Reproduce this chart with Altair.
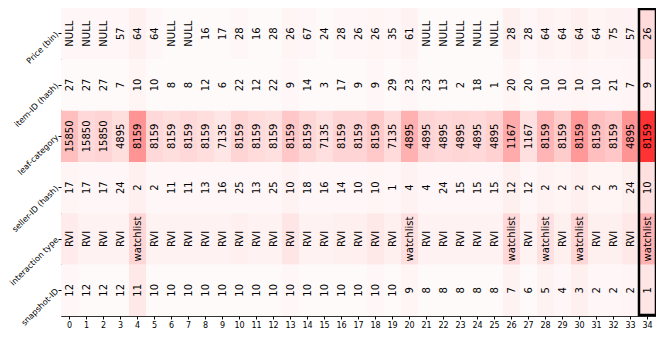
import altair as alt
import pandas as pd

cols = list(range(35))
rows = ["Price (bin)", "item-ID (hash)", "leaf-category", "seller-ID (hash)", "interaction type", "snapshot-ID"]

price = ["NULL", "NULL", "NULL", "57", "64", "64", "NULL", "NULL", "16", "17", "28", "16", "28", "26", "67", "24", "28", "26", "26", "35", "61", "NULL", "NULL", "NULL", "NULL", "NULL", "28", "28", "64", "64", "64", "64", "75", "57", "26"]
item = [27, 27, 27, 7, 10, 10, 8, 8, 12, 6, 22, 12, 22, 9, 14, 3, 17, 9, 9, 29, 23, 23, 13, 2, 18, 1, 20, 20, 10, 10, 10, 10, 21, 7, 9]
leaf = [15850, 15850, 15850, 4895, 8159, 8159, 8159, 8159, 8159, 7135, 8159, 8159, 8159, 8159, 8159, 7135, 8159, 8159, 8159, 7135, 4895, 4895, 4895, 4895, 4895, 4895, 1167, 1167, 8159, 8159, 8159, 8159, 8159, 4895, 8159]
seller = [17, 17, 17, 24, 2, 2, 11, 11, 13, 16, 25, 13, 25, 10, 18, 16, 14, 10, 10, 1, 4, 4, 24, 15, 15, 15, 12, 12, 2, 2, 2, 2, 3, 24, 10]
interaction = ["RVI", "RVI", "RVI", "RVI", "watchlist", "RVI", "RVI", "RVI", "RVI", "RVI", "RVI", "RVI", "RVI", "RVI", "RVI", "RVI", "RVI", "RVI", "RVI", "RVI", "watchlist", "RVI", "RVI", "RVI", "RVI", "RVI", "watchlist", "RVI", "watchlist", "RVI", "watchlist", "RVI", "RVI", "RVI", "watchlist"]
snapshot = [12, 12, 12, 12, 11, 10, 10, 10, 10, 10, 10, 10, 10, 10, 10, 10, 10, 10, 10, 10, 9, 8, 8, 8, 8, 8, 7, 6, 5, 4, 3, 2, 2, 2, 1]

w_price = [0.03, 0.03, 0.03, 0.03, 0.06, 0.03, 0.02, 0.02, 0.02, 0.02, 0.03, 0.02, 0.02, 0.04, 0.03, 0.02, 0.03, 0.03, 0.04, 0.03, 0.05, 0.02, 0.02, 0.02, 0.02, 0.02, 0.06, 0.03, 0.05, 0.04, 0.06, 0.04, 0.05, 0.05, 0.14]
w_item = [0.02, 0.02, 0.02, 0.02, 0.04, 0.02, 0.02, 0.02, 0.02, 0.02, 0.02, 0.02, 0.02, 0.03, 0.02, 0.02, 0.02, 0.02, 0.03, 0.02, 0.03, 0.02, 0.02, 0.02, 0.02, 0.02, 0.04, 0.02, 0.03, 0.03, 0.04, 0.03, 0.03, 0.04, 0.08]
w_leaf = [0.25, 0.15, 0.17, 0.13, 0.42, 0.15, 0.13, 0.15, 0.13, 0.10, 0.17, 0.14, 0.12, 0.22, 0.16, 0.12, 0.17, 0.17, 0.21, 0.14, 0.31, 0.17, 0.15, 0.16, 0.15, 0.18, 0.33, 0.12, 0.29, 0.20, 0.40, 0.25, 0.22, 0.42, 0.80]
w_seller = [0.04, 0.03, 0.03, 0.03, 0.06, 0.03, 0.03, 0.03, 0.03, 0.03, 0.03, 0.03, 0.03, 0.05, 0.03, 0.03, 0.03, 0.03, 0.04, 0.03, 0.05, 0.03, 0.03, 0.03, 0.03, 0.03, 0.06, 0.03, 0.05, 0.04, 0.06, 0.04, 0.04, 0.06, 0.12]
w_inter = [0.08, 0.05, 0.05, 0.05, 0.16, 0.05, 0.05, 0.05, 0.05, 0.05, 0.06, 0.05, 0.05, 0.10, 0.05, 0.05, 0.06, 0.06, 0.09, 0.06, 0.12, 0.05, 0.05, 0.05, 0.05, 0.05, 0.15, 0.05, 0.12, 0.06, 0.16, 0.06, 0.06, 0.09, 0.30]
w_snap = [0.03, 0.02, 0.02, 0.02, 0.09, 0.02, 0.02, 0.02, 0.02, 0.02, 0.02, 0.02, 0.02, 0.03, 0.02, 0.02, 0.02, 0.02, 0.03, 0.02, 0.04, 0.02, 0.02, 0.02, 0.02, 0.02, 0.05, 0.02, 0.05, 0.03, 0.06, 0.03, 0.03, 0.04, 0.10]

highlight = [34]

labels = [price, item, leaf, seller, interaction, snapshot]
weights = [w_price, w_item, w_leaf, w_seller, w_inter, w_snap]
records = []
for r, lab, wt in zip(rows, labels, weights):
    for c in cols:
        records.append({"col": c, "row": r, "label": str(lab[c]), "w": wt[c]})
df = pd.DataFrame(records)

H = 308
W = 595

xenc = alt.X("col:O", sort=cols, scale=alt.Scale(paddingInner=0, paddingOuter=0),
             axis=alt.Axis(title=None, labelAngle=0, labelFontSize=8, labelFont="DejaVu Sans",
                           labelColor="black", tickColor="black", tickSize=3, domain=False, labelPadding=2))
yenc = alt.Y("row:N", sort=rows, scale=alt.Scale(paddingInner=0, paddingOuter=0),
             axis=alt.Axis(title=None, labelAngle=-45, labelFontSize=8.1, labelFont="DejaVu Sans",
                           labelAlign="right", labelBaseline="middle",
                           labelColor="black", tickColor="black", tickSize=3, domain=False, labelPadding=1))

heat = alt.Chart(df).mark_rect().encode(
    x=xenc, y=yenc,
    color=alt.Color("w:Q", scale=alt.Scale(domain=[0, 1], range=["#ffffff", "#ff0000"], interpolate="rgb"),
                    legend=None),
)

text = alt.Chart(df).mark_text(angle=270, fontSize=10, font="DejaVu Sans", color="black").encode(
    x=alt.X("col:O", sort=cols), y=alt.Y("row:N", sort=rows), text="label:N"
)

box_df = pd.DataFrame({"col": highlight})
box = alt.Chart(box_df).mark_rect(fillOpacity=0, stroke="black", strokeWidth=2.5).encode(
    x=alt.X("col:O", sort=cols), y=alt.value(1), y2=alt.value(H - 1)
)

chart = alt.layer(heat, text, box).properties(
    width=W, height=H,
    autosize=alt.AutoSizeParams(type="none"),
    padding={"left": 53, "top": 0, "right": 0, "bottom": 13},
).configure_view(stroke="#333333", strokeWidth=1)

chart.save("out.html", embed_options={"renderer": "svg", "actions": False})
